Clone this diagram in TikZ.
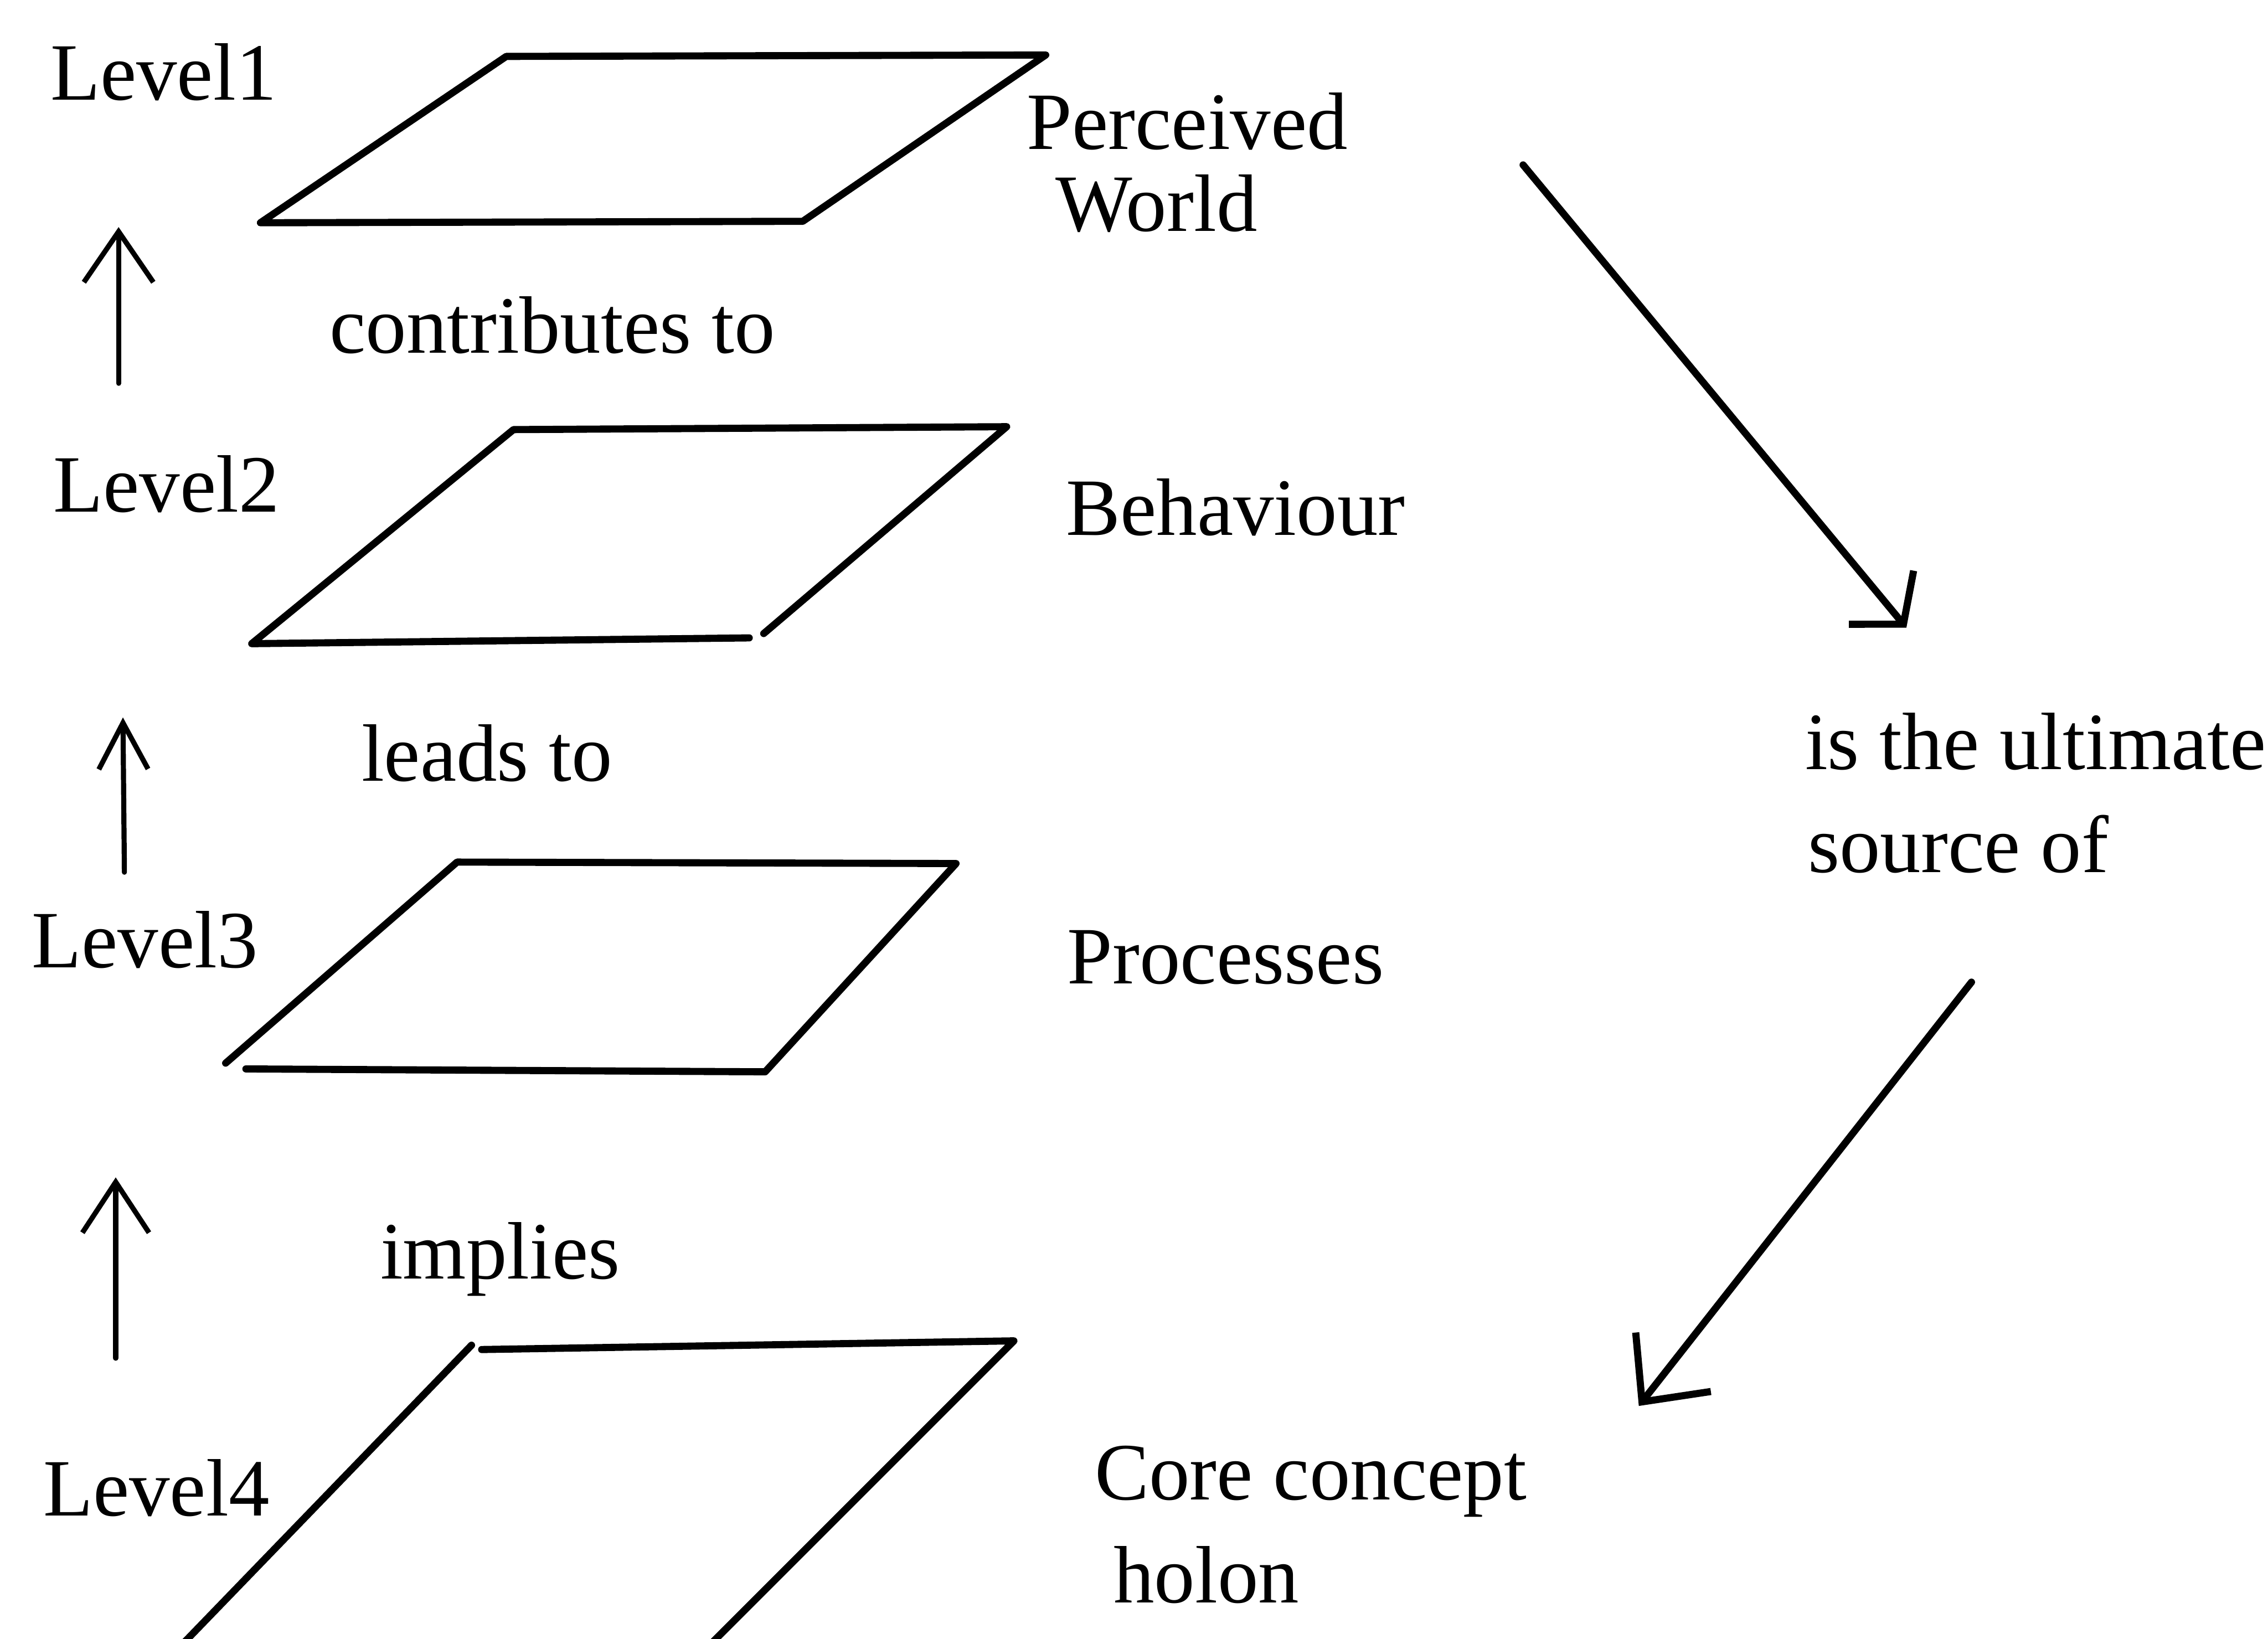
\documentclass[tikz,border=0pt]{standalone}
\usepackage{fontspec}
\setmainfont{Liberation Serif}
\usetikzlibrary{arrows.meta}
\begin{document}
\begin{tikzpicture}[x=0.01cm,y=-0.01cm,
  plane/.style={line width=1.4pt, line join=round, line cap=round},
  uparrow/.style={line width=1.0pt, line cap=round},
  diagarrow/.style={line width=1.4pt, line cap=round},
  lbl/.style={anchor=base west, inner sep=0pt, outer sep=0pt,
              font=\fontsize{16}{20}\selectfont},
]
\fill[white] (0,0) rectangle (1568,1133);
\useasboundingbox (0,0) rectangle (1568,1133);

% level planes
\draw[plane] (350,39) -- (723,38) -- (555,153) -- (180,154) -- cycle;
\draw[plane] (518,441) -- (174,445) -- (355,297) -- (696,295) -- (528,438);
\draw[plane] (156,735) -- (316,596) -- (661,597) -- (529,741) -- (170,739);
\draw[plane] (326,930) -- (123,1140);
\draw[plane] (333,933) -- (701,927) -- (488,1140);

% level labels
\node[lbl] (lev1) at (35,69) {Level1};
\node[lbl] (lev2) at (37,354) {Level2};
\node[lbl] (lev3) at (22,669) {Level3};
\node[lbl] (lev4) at (30,1048) {Level4};

% plane names
\node[lbl] (pw1) at (710,103) {Perceived};
\node[lbl] (pw2) at (730,160) {World};
\node[lbl] (beh) at (737,370) {Behaviour};
\node[lbl] (proc) at (738,680) {Processes};
\node[lbl] (core1) at (757,1037) {Core concept};
\node[lbl] (core2) at (770,1108) {holon};

% relations between levels
\node[lbl] (contrib) at (228,244) {contributes to};
\node[lbl] (leads) at (250,540) {leads to};
\node[lbl] (impl) at (263,884) {implies};
\node[lbl] (src1) at (1248,532) {is the ultimate};
\node[lbl] (src2) at (1250,603) {source of};

% upward arrows
\coordinate (a1s) at (82,265);  \coordinate (a1t) at (82,157);
\coordinate (a2s) at (86,603);  \coordinate (a2t) at (85,496);
\coordinate (a3s) at (80,939);  \coordinate (a3t) at (80,814);
\draw[uparrow, -{Straight Barb[length=0.35cm,width=0.48cm]}] (a1s) -- (a1t);
\draw[uparrow, -{Straight Barb[length=0.32cm,width=0.34cm]}] (a2s) -- (a2t);
\draw[uparrow, -{Straight Barb[length=0.35cm,width=0.46cm]}] (a3s) -- (a3t);

% loop from the top plane to the core
\coordinate (dAs) at (1053,114); \coordinate (dAt) at (1318,434);
\coordinate (dBs) at (1363,679); \coordinate (dBt) at (1133,972);
\draw[diagarrow, -{Straight Barb[length=0.24cm,width=0.58cm]}] (dAs) -- (dAt);
\draw[diagarrow, -{Straight Barb[length=0.35cm,width=0.66cm]}] (dBs) -- (dBt);
\end{tikzpicture}
\end{document}
